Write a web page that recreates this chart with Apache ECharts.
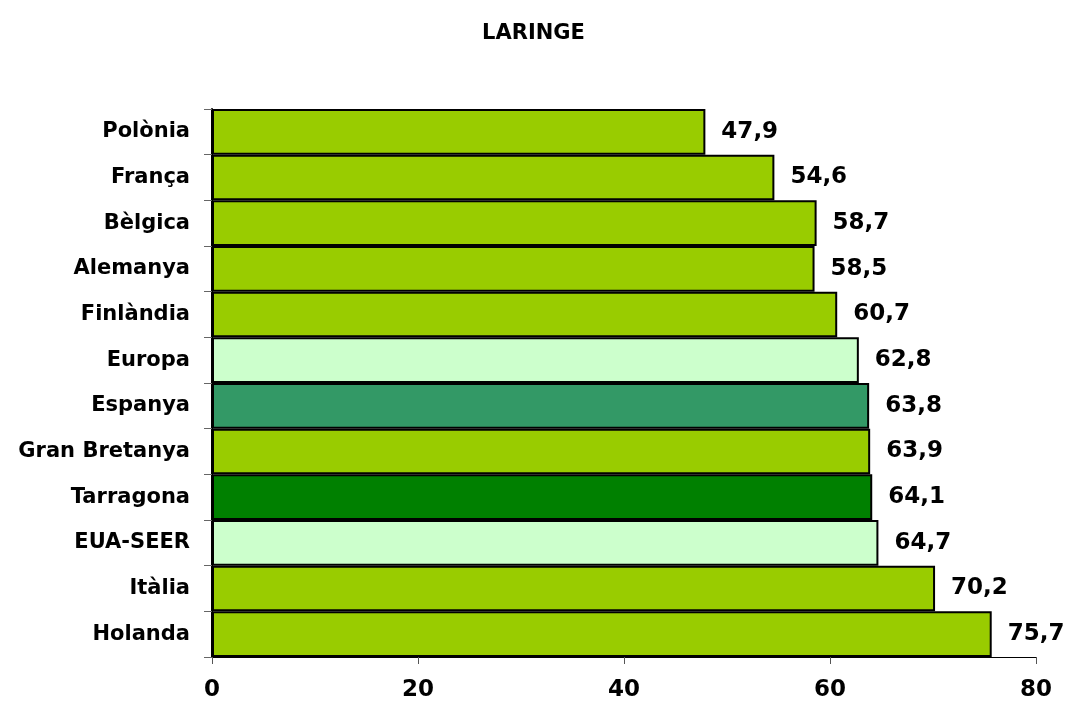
<!DOCTYPE html>
<html>
<head>
<meta charset="utf-8">
<script src="https://cdn.jsdelivr.net/npm/echarts@6/dist/echarts.min.js"></script>
<style>
html,body{margin:0;padding:0;background:#fff;}
#chart{width:1067px;height:701px;}
</style>
</head>
<body>
<div id="chart"></div>
<script>
const titleText = "LARINGE";
const categories = ["Polònia","França","Bèlgica","Alemanya","Finlàndia","Europa","Espanya","Gran Bretanya","Tarragona","EUA-SEER","Itàlia","Holanda"];
const values = [47.9, 54.6, 58.7, 58.5, 60.7, 62.8, 63.8, 63.9, 64.1, 64.7, 70.2, 75.7];
const barColors = ["#99CC00","#99CC00","#99CC00","#99CC00","#99CC00","#CCFFCC","#339966","#99CC00","#008000","#CCFFCC","#99CC00","#99CC00"];
const xTicks = [0, 20, 40, 60, 80];

const FONT = "DejaVu Sans";
const chart = echarts.init(document.getElementById('chart'), null, {renderer:'canvas'});
chart.setOption({
  backgroundColor: '#ffffff',
  animation: false,
  title: {
    text: titleText, left: 'center', top: 18,
    textStyle: {fontFamily: FONT, fontWeight: 'bold', fontSize: 21, color: '#000'}
  },
  grid: {left: 212, right: 31, top: 109, bottom: 44, containLabel: false, outerBoundsMode: 'none'},
  xAxis: {
    type: 'value', min: xTicks[0], max: xTicks[xTicks.length-1], interval: 20,
    axisLine: {show: true, lineStyle: {color: '#000', width: 1}},
    axisTick: {show: true, length: 7, lineStyle: {color: '#555'}},
    splitLine: {show: false},
    axisLabel: {fontFamily: FONT, fontWeight: 'bold', fontSize: 23, color: '#000', margin: 22}
  },
  yAxis: {
    type: 'category', data: categories, inverse: true,
    axisLine: {show: true, lineStyle: {color: '#000', width: 2}},
    axisTick: {show: true, length: 8, lineStyle: {color: '#666'}},
    axisLabel: {fontFamily: FONT, fontWeight: 'bold', fontSize: 21, color: '#000', margin: 22}
  },
  series: [{
    type: 'bar',
    data: values.map((v, i) => ({value: v, itemStyle: {color: barColors[i]}})),
    barCategoryGap: '0%',
    itemStyle: {borderColor: '#000', borderWidth: 2},
    label: {
      show: true, position: 'right', distance: 16,
      fontFamily: FONT, fontWeight: 'bold', fontSize: 23, color: '#000',
      formatter: p => p.value.toFixed(1).replace('.', ',')
    }
  }]
});
</script>
</body>
</html>
